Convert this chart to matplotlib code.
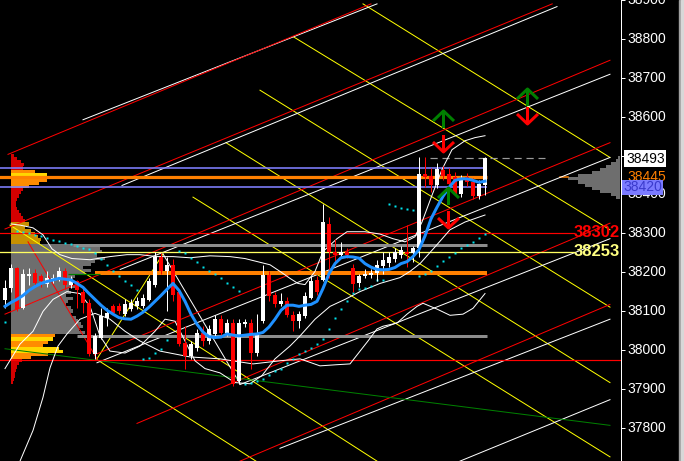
import numpy as np
import matplotlib
matplotlib.use("Agg")
import matplotlib.pyplot as plt
import matplotlib.transforms as mtransforms
from matplotlib.path import Path
from matplotlib.patches import Rectangle

# ---------------- data ----------------
opens = [38129,38159,38210,38108,38189,38197,38189,38169,38181,38181,
         38202,38166,38176,38150,38121,37989,38031,38082,38112,38112,
         38092,38105,38112,38112,38129,38168,38240,38204,38219,38149,
         38019,37985,38006,38044,38023,38041,38080,38044,38070,37921,
         38066,38070,37993,38074,38193,38142,38118,38127,38091,38074,
         38087,38133,38180,38180,38325,38253,38245,38253,38210,38172,
         38191,38193,38197,38217,38223,38235,38245,38251,38250,38261,
         38452,38448,38423,38462,38452,38444,38401,38446,38431,38397,
         38423]
highs = [38181,38222,38214,38207,38210,38209,38196,38204,38196,38212,
         38210,38189,38181,38163,38130,38043,38107,38107,38117,38120,
         38130,38130,38135,38143,38186,38253,38250,38240,38235,38156,
         38061,38023,38054,38061,38064,38089,38089,38079,38079,38079,
         38079,38079,38092,38219,38202,38150,38146,38135,38099,38099,
         38150,38191,38191,38376,38342,38286,38278,38263,38222,38196,
         38207,38207,38232,38253,38253,38263,38268,38321,38268,38495,
         38497,38469,38482,38474,38467,38457,38449,38454,38441,38436,
         38495]
lows = [38108,38150,38099,38105,38168,38168,38163,38163,38171,38176,
        38156,38158,38108,38094,37985,37977,38028,38061,38089,38092,
        38087,38099,38105,38107,38125,38163,38196,38099,38125,38010,
        37952,37977,37997,38010,38015,38033,38036,38036,37908,37913,
        38059,37952,37985,38069,38125,38110,38112,38084,38048,38057,
        38082,38130,38140,38176,38184,38222,38237,38237,38150,38163,
        38184,38186,38176,38194,38214,38227,38237,38212,38227,38240,
        38418,38406,38416,38436,38418,38398,38393,38421,38388,38388,
        38398]
closes = [38159,38210,38104,38194,38196,38173,38176,38184,38186,38204,
          38168,38181,38155,38121,37989,38036,38087,38095,38095,38099,
          38117,38121,38125,38133,38176,38240,38202,38219,38142,38015,
          37985,38015,38044,38023,38054,38079,38044,38070,37912,38070,
          38071,37993,38044,38193,38138,38117,38127,38091,38074,38092,
          38138,38176,38150,38329,38253,38245,38253,38245,38169,38189,
          38196,38197,38219,38231,38240,38253,38258,38246,38263,38452,
          38444,38423,38465,38448,38427,38401,38440,38431,38397,38427,
          38493]
ma_values = [38112,38122,38130,38140,38153,38163,38171,38176,38180,38184,
             38182,38180,38171,38161,38145,38130,38115,38102,38092,38083,
             38080,38079,38087,38097,38110,38125,38140,38156,38171,38153,
             38125,38092,38066,38046,38034,38032,38033,38041,38038,38036,
             38038,38040,38041,38045,38059,38079,38102,38115,38115,38112,
             38115,38117,38125,38158,38196,38222,38237,38240,38239,38236,
             38222,38213,38207,38206,38207,38212,38222,38227,38240,38258,
             38293,38337,38367,38395,38418,38436,38440,38440,38436,38431,
             38434]
nan = np.nan
sar_values = [38071,nan,38306,38304,38300,38296,38292,38287,38283,38279,
              38276,38272,38268,38263,38259,38250,38235,38219,38204,38189,
              38176,38168,38155,37977,37980,37991,38002,38025,nan,38254,
              38248,38237,38225,38214,38204,38195,38184,38173,38163,38152,
              37913,37916,37921,37925,37936,37945,37951,37967,37977,37989,
              37997,38006,38016,38028,38054,38082,38106,38126,38146,38156,
              38158,38165,38180,38181,38376,38370,38365,38362,38359,38189,
              38195,38204,38217,38228,38240,38250,38261,38269,38278,38287,
              38297]

# Bollinger-type envelopes (bar, price) readings
upper_band_x = [1,2.5,4.67,6.33,7.83,9.17,11.17,14.17,17.5,20.33,22.5,25.33,28,30.83,34.17,
                37.5,40,44.17,45.83,47.5,48.83,50,51.67,53,55.33,57,60,62.5,64.67,66.67,
                68.33,69.5,71.17,72.83,74.5,76.67,78.33,80]
upper_band_p = [38324,38321,38314,38296,38260,38245,38235,38232,38240,38245,38245,38240,38240,38237,38242,
                38240,38235,38219,38202,38184,38171,38168,38202,38253,38286,38304,38304,38298,38286,38278,
                38291,38329,38398,38464,38515,38538,38546,38551]
lower_band_x = [0,2.5,4.67,6.33,8,10.33,12.5,14.17,15.83,17.5,20,22.5,25,26.67,28.33,30,31.67,33.33,
                35.83,38.33,40.83,42.83,45,47.5,49.17,51.67,54.17,56.67,59.17,62.5,65.83,67.5,69.17,
                71.67,74.17,76.67,80]
lower_band_p = [37952,38015,38048,38099,38130,38150,38145,38112,38036,37997,37992,38010,38048,38079,38074,
                38023,37972,37952,37941,37916,37913,37934,37977,38010,38036,38079,38112,38130,38150,38171,
                38186,38202,38222,38265,38309,38329,38347]
slow_band_x = [2.5,4.67,6.33,7.5,8.83,10.33,12.5,15,17.5,20,22.5,25.83,30.83,35.83,41.33,45.83,49.17,
               52.5,55.33,57.5,60.5,62,63,65.33,67,68.67,69.67,72,74.17,76.33,78,80]
slow_band_p = [37714,37793,37878,37954,38010,38041,38079,38094,38079,38048,38023,37997,37982,37977,37964,
               37972,37977,37959,37962,37964,38023,38054,38061,38069,38092,38112,38120,38105,38089,38092,
               38107,38145]

# trend / channel lines: ((bar0, price0), (bar1, price1))
red_lines = [((0.5, 38503), (61.0, 38890)), ((0.0, 38311), (91.2, 38890)),
             ((0.0, 38092), (100.83, 38745)), ((15.33, 37990), (100.83, 38533)),
             ((22.0, 37811), (100.83, 38326)), ((39.17, 37714), (100.83, 38117)),
             ((3.83, 38278), (15.33, 37977))]
white_lines = [((13.0, 38592), (62.0, 38890)), ((19.5, 38423), (92.0, 38883)),
               ((19.2, 38207), (100.83, 38709)), ((15.33, 37967), (100.83, 38495)),
               ((39.17, 37911), (100.83, 38286)), ((45.83, 37747), (100.83, 38079)),
               ((75.83, 37714), (100.83, 37872)), ((26.33, 38247), (39.17, 37913))]
yellow_lines = [((59.67, 38890), (100.83, 38495)), ((48.0, 38806), (100.83, 38309)),
                ((42.5, 38668), (100.83, 38110)), ((36.83, 38533), (100.83, 37916)),
                ((31.33, 38393), (100.83, 37725)), ((0.83, 38321), (62.0, 37714)),
                ((15.33, 37975), (41.83, 37714)), ((15.33, 37977), (26.33, 38247))]
green_lines = [((0.0, 38003), (100.83, 37806))]

# horizontal levels: (price, start bar, end bar, color, width px)
levels = [(38467, -1, 80.3, '#8080ff', 1.6), (38420, -1, 80.3, '#8080ff', 1.6),
          (38445, -1, 80.3, '#ff8000', 3.2), (38271, 11.3, 80.3, '#8c8c8c', 3.0),
          (38198, 15.0, 80.3, '#ff8000', 4.0), (38037, 12.0, 80.3, '#8c8c8c', 3.0),
          (38302, -1, 95.0, '#ff0000', 1.2), (38253, -1, 95.0, '#ffff60', 1.3),
          (37974, -1, 103, '#ff0000', 1.2), (38196, 10.5, 15.8, '#008000', 1.2)]
dashed_level = (38493, 70.8, 90.0)

# volume profiles
vp_prices = np.arange(38500, 37907, -8)
vp_volume = [3,6,10,13,12,24,36,44,36,28,18,12,10,8,6,5,5,6,8,10,12,14,18,14,20,24,27,30,29,
             86,89,91,86,94,84,80,72,80,74,64,62,60,64,58,60,55,62,57,55,60,62,60,65,67,70,72,68,74,
             44,42,37,32,48,52,37,20,11,8,6,5,4,4,3,2,0]
vp_kind = (['r']*5 + ['o','y','y','o','o','o'] + ['r']*11 + ['g']*7 + ['k']*29 +
           ['o','y','o','o','y','y','o','o'] + ['r']*9)
vp_right_prices = np.arange(38496, 38391, -8)
vp_right_volume = [2,4,9,14,20,28,42,52,42,35,28,20,9,4]

# signal arrows (bar, price)
up_arrows_x = [73.05, 86.95, 73.9]
up_arrows_p = [38593, 38650, 38397]
down_arrows_x = [73.05, 86.95, 73.9]
down_arrows_p = [38533, 38604, 38337]

yticks = [37800, 37900, 38000, 38100, 38200, 38300, 38400, 38500, 38600, 38700, 38800, 38900]

# ---------------- figure ----------------
W, H = 684, 461
fig = plt.figure(figsize=(W/100, H/100), dpi=100, facecolor='black')
ax = fig.add_axes([0, 0, 621/W, 1])
ax.set_facecolor('black')
ax.set_xlim(-5/6, 616/6)
ax.set_ylim(37714.3, 38890.3)
PX = 0.72  # points per pixel

# volume profile (left) - x measured in pixels from left of plot
vp_tr = mtransforms.blended_transform_factory(
    mtransforms.Affine2D().translate(11, 0).scale(1/621, 1) + ax.transAxes, ax.transData)
cmap_kind = {'r': '#d40000', 'o': '#ff8c00', 'y': '#ffd700', 'g': '#c89000', 'k': '#6e6e6e'}
ax.barh(vp_prices, vp_volume, height=8, left=0, color=[cmap_kind[k] for k in vp_kind],
        transform=vp_tr, zorder=1, linewidth=0)
vp_tr_r = mtransforms.blended_transform_factory(
    mtransforms.Affine2D().scale(-1, 1).translate(620, 0).scale(1/621, 1) + ax.transAxes, ax.transData)
ax.barh(vp_right_prices, vp_right_volume, height=8, left=0, color='#6e6e6e',
        transform=vp_tr_r, zorder=1, linewidth=0)
ax.plot([52, 60], [38445, 38445], color='#ff8000', lw=1.5*PX, transform=vp_tr_r, zorder=1.5)

# diagonal lines
for group, col in ((yellow_lines, '#ffff00'), (white_lines, '#ffffff'),
                   (red_lines, '#ff0000'), (green_lines, '#008000')):
    for (x0, p0), (x1, p1) in group:
        ax.plot([x0, x1], [p0, p1], color=col, lw=1.0*PX, zorder=2)

# horizontal levels
for p, x0, x1, col, w in levels:
    ax.plot([x0, x1], [p, p], color=col, lw=w*PX, zorder=3, solid_capstyle='butt')
ax.plot([dashed_level[1], dashed_level[2]], [dashed_level[0]]*2, color='#9a9a9a',
        lw=1.2*PX, dashes=(6, 4), zorder=3)

# envelopes
for bx, bp in ((upper_band_x, upper_band_p), (lower_band_x, lower_band_p), (slow_band_x, slow_band_p)):
    ax.plot(bx, bp, color='white', lw=1.0*PX, zorder=4)

# SAR
idx = np.arange(len(opens))
ax.plot(idx, sar_values, 's', ms=2.6*PX, color='#00e5ee', mec='none', zorder=5)

# candles
o = np.array(opens, float); c = np.array(closes, float)
h = np.array(highs, float); l = np.array(lows, float)
up = c >= o
ccol = np.where(up, '#ffffff', '#ff0000')
ax.vlines(idx, l, h, colors=ccol, lw=1.0*PX, zorder=6)
body_h = np.maximum(np.abs(c - o), 2.5)
ax.bar(idx, body_h, bottom=np.minimum(o, c), width=0.7, color=ccol, linewidth=0, zorder=6.5)

# moving average
ax.plot(idx, ma_values, color='#1e90ff', lw=3.0*PX, zorder=7, solid_joinstyle='round')

# arrows
up_path = Path([(-10.5, -1.5), (0, 8.5), (10.5, -1.5), (0, 8.5), (0, -8.5)],
               [Path.MOVETO, Path.LINETO, Path.LINETO, Path.MOVETO, Path.LINETO])
dn_path = Path([(-10.5, 1.5), (0, -8.5), (10.5, 1.5), (0, -8.5), (0, 8.5)],
               [Path.MOVETO, Path.LINETO, Path.LINETO, Path.MOVETO, Path.LINETO])
ax.plot(up_arrows_x, up_arrows_p, linestyle='none', marker=up_path, ms=21*PX,
        mfc='none', mec='#008000', mew=3*PX, zorder=8)
ax.plot(down_arrows_x, down_arrows_p, linestyle='none', marker=dn_path, ms=21*PX,
        mfc='none', mec='#ff0000', mew=3*PX, zorder=8)

# axes styling
for s in ('left', 'top', 'bottom'):
    ax.spines[s].set_visible(False)
ax.spines['right'].set_color('white')
ax.spines['right'].set_linewidth(1.0*PX)
ax.set_xticks([])
ax.yaxis.tick_right()
ax.set_yticks(yticks)
ax.set_yticklabels([str(t) for t in yticks])
ax.tick_params(axis='y', colors='white', length=4*PX, width=1*PX, pad=1.5,
               labelsize=10, labelcolor='white')
for lab in ax.get_yticklabels():
    lab.set_family('Liberation Sans')
    lab.set_verticalalignment('center')

tr_lab = mtransforms.blended_transform_factory(ax.transAxes, ax.transData)
ax.text(626/621, 38492, '38493', transform=tr_lab, ha='left', va='center', color='black',
        fontsize=10, family='Liberation Sans', clip_on=False, zorder=20,
        bbox=dict(boxstyle='square,pad=0.12', fc='white', ec='none'))
ax.text(627/621, 38445, '38445', transform=tr_lab, ha='left', va='center', color='#ff8000',
        fontsize=10, family='Liberation Sans', clip_on=False, zorder=20)
ax.text(623/621, 38418, '38420', transform=tr_lab, ha='left', va='center', color='#3a3acc',
        fontsize=10, family='Liberation Sans', clip_on=False, zorder=20,
        bbox=dict(boxstyle='square,pad=0.05', fc='#7b7bff', ec='none'))
ax.text(620/621, 38302, '38302', transform=tr_lab, ha='right', va='center', color='#ff0000',
        fontsize=12, fontweight='bold', family='Liberation Sans', clip_on=False, zorder=20)
ax.text(620/621, 38253, '38253', transform=tr_lab, ha='right', va='center', color='#ffff80',
        fontsize=12, fontweight='bold', family='Liberation Sans', clip_on=False, zorder=20)

fig.add_artist(Rectangle((679/W, 0), 2/W, 1, transform=fig.transFigure, color='#a0a0a0'))
fig.add_artist(Rectangle((681/W, 0), 3/W, 1, transform=fig.transFigure, color='#d8d8d8'))

fig.savefig('out.png', dpi=100, facecolor='black')
